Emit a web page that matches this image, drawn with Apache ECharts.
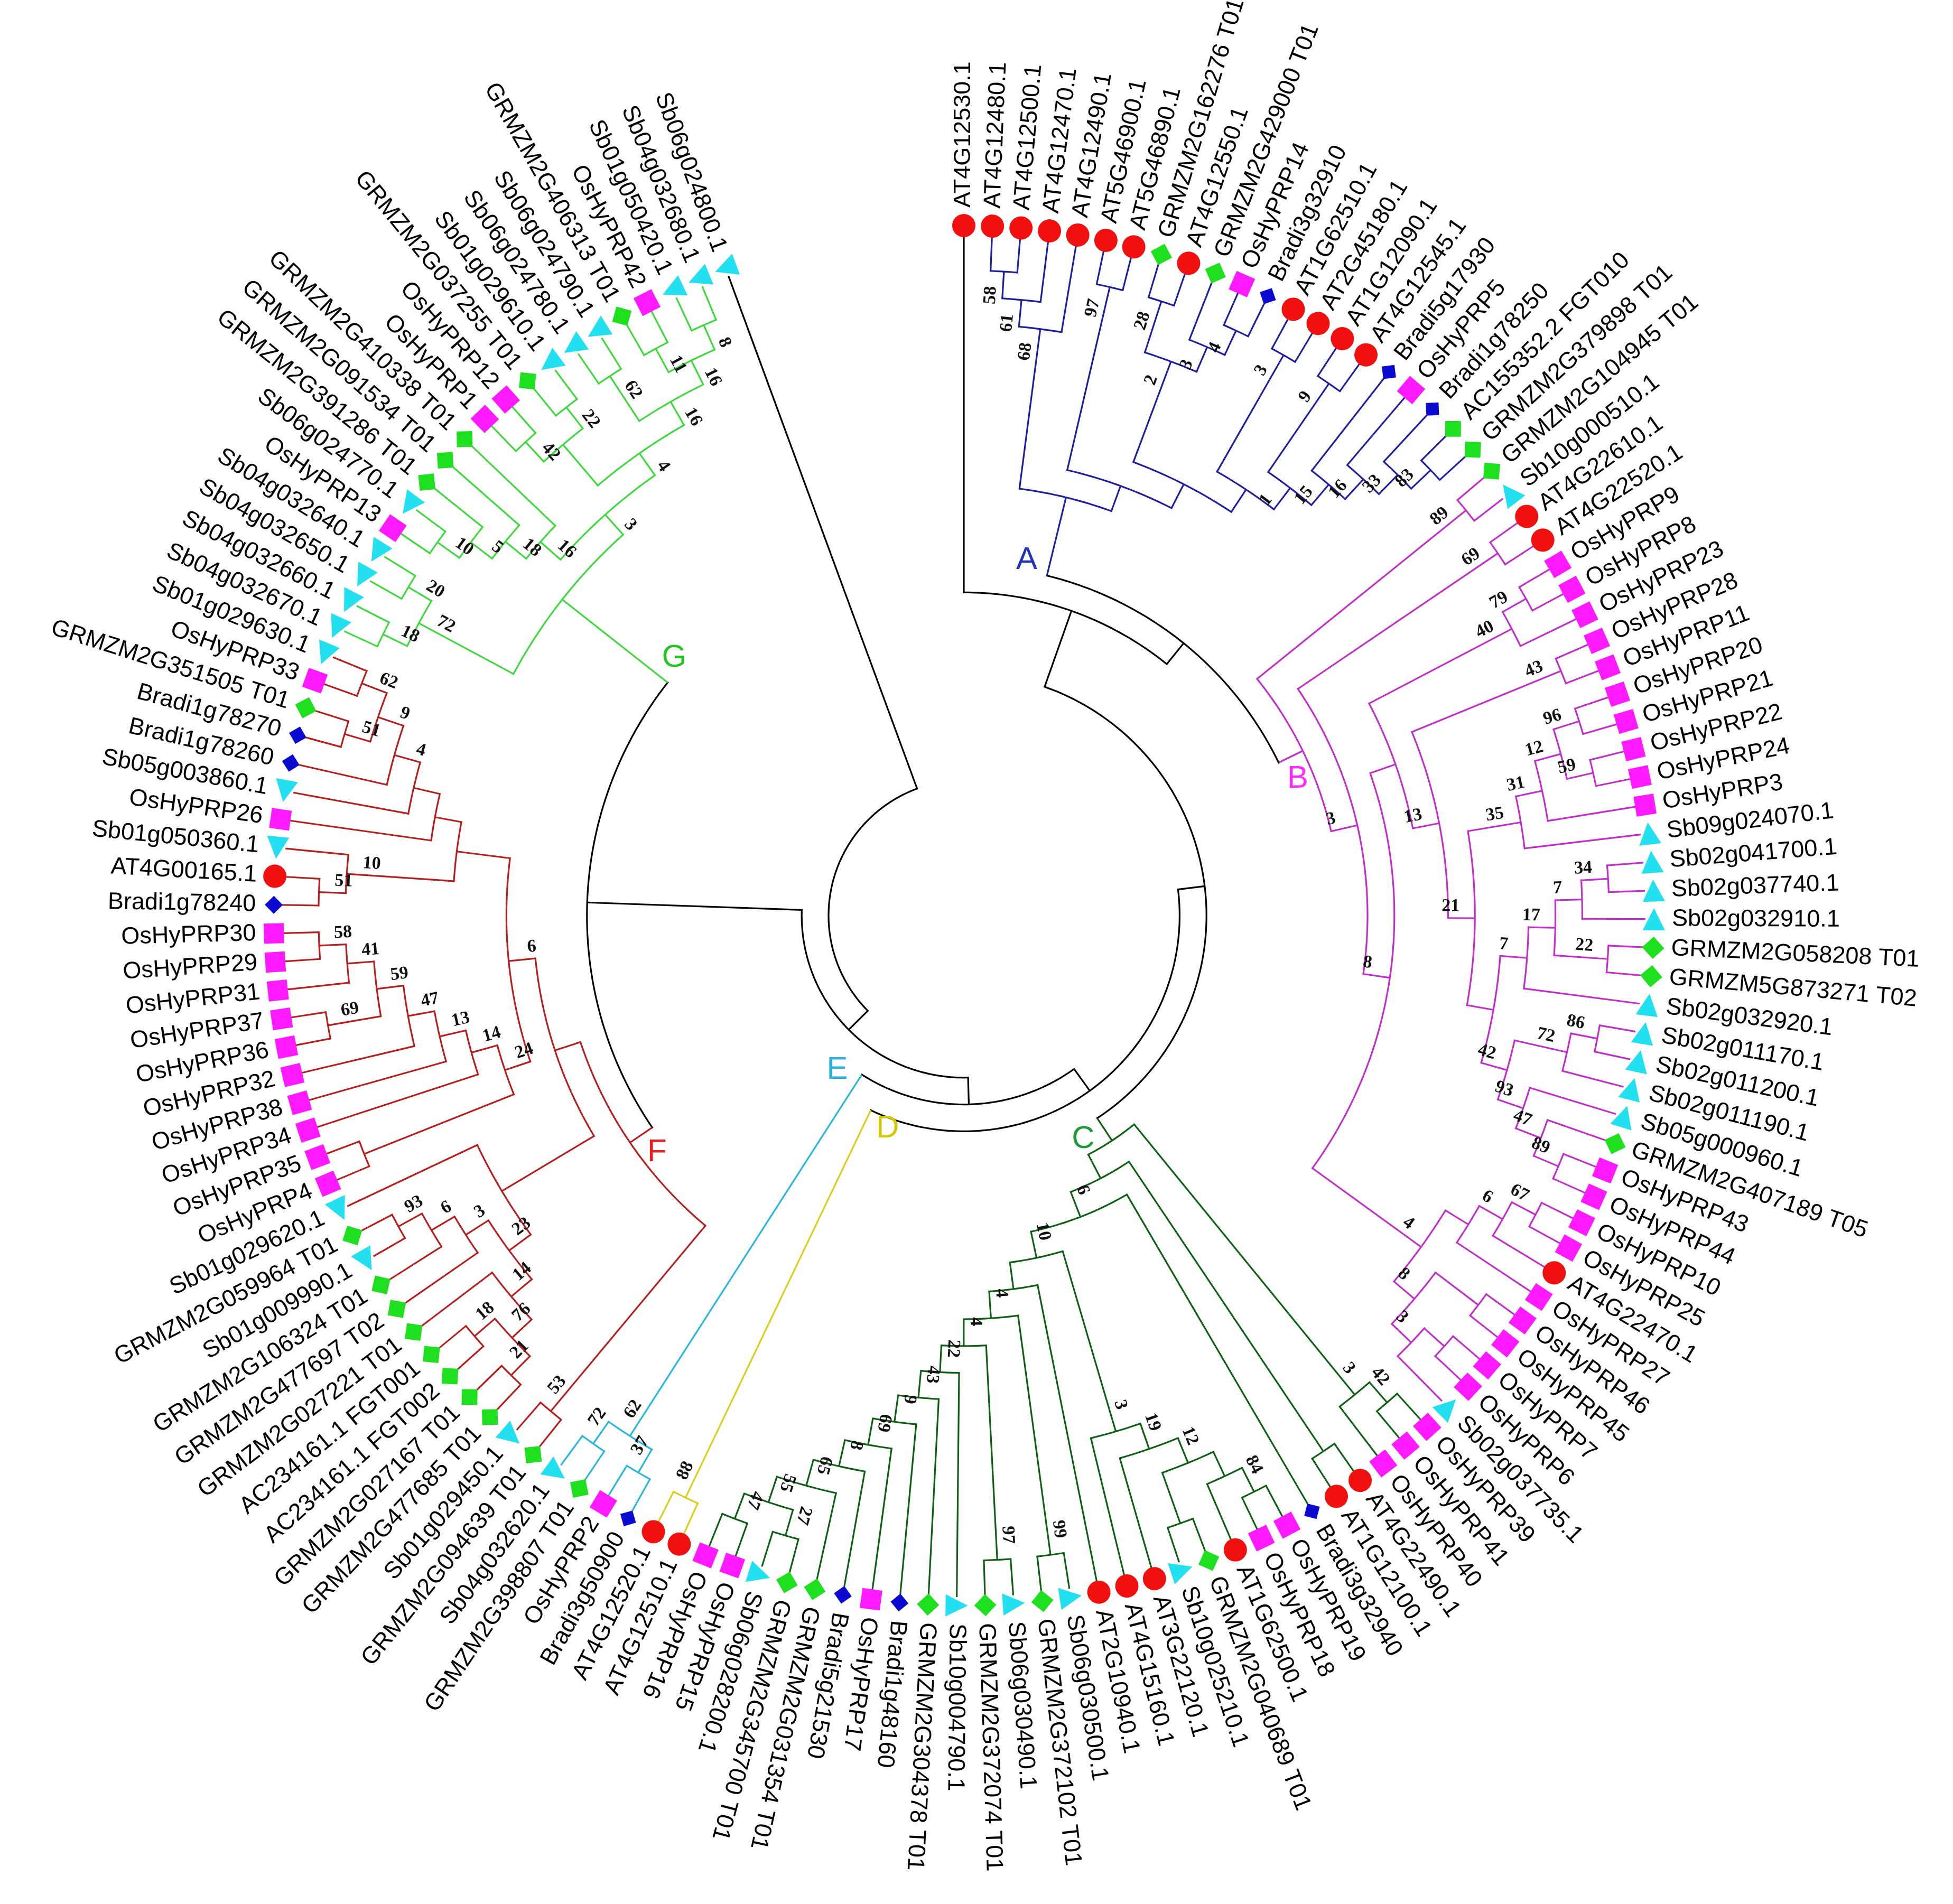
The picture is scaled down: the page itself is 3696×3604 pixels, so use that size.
<!DOCTYPE html>
<html>
<head>
<meta charset="utf-8">
<title>HyPRP phylogenetic tree</title>
<script src="https://cdn.jsdelivr.net/npm/echarts@6/dist/echarts.min.js"></script>
</head>
<body style="margin:0;background:#ffffff;">
<div id="main" style="width:3696px;height:3604px;"></div>
<script>
// ---- data -----------------------------------------------------------------
// taxa in clockwise order, starting at the top
var leafNames = [
  'AT4G12530.1', 'AT4G12480.1', 'AT4G12500.1', 'AT4G12470.1', 'AT4G12490.1',
  'AT5G46900.1', 'AT5G46890.1', 'GRMZM2G162276 T01', 'AT4G12550.1', 'GRMZM2G429000 T01',
  'OsHyPRP14', 'Bradi3g32910', 'AT1G62510.1', 'AT2G45180.1', 'AT1G12090.1',
  'AT4G12545.1', 'Bradi5g17930', 'OsHyPRP5', 'Bradi1g78250', 'AC155352.2 FGT010',
  'GRMZM2G379898 T01', 'GRMZM2G104945 T01', 'Sb10g000510.1', 'AT4G22610.1', 'AT4G22520.1',
  'OsHyPRP9', 'OsHyPRP8', 'OsHyPRP23', 'OsHyPRP28', 'OsHyPRP11',
  'OsHyPRP20', 'OsHyPRP21', 'OsHyPRP22', 'OsHyPRP24', 'OsHyPRP3',
  'Sb09g024070.1', 'Sb02g041700.1', 'Sb02g037740.1', 'Sb02g032910.1', 'GRMZM2G058208 T01',
  'GRMZM5G873271 T02', 'Sb02g032920.1', 'Sb02g011170.1', 'Sb02g011200.1', 'Sb02g011190.1',
  'Sb05g000960.1', 'GRMZM2G407189 T05', 'OsHyPRP43', 'OsHyPRP44', 'OsHyPRP10',
  'OsHyPRP25', 'AT4G22470.1', 'OsHyPRP27', 'OsHyPRP46', 'OsHyPRP45',
  'OsHyPRP7', 'OsHyPRP6', 'Sb02g037735.1', 'OsHyPRP39', 'OsHyPRP41',
  'OsHyPRP40', 'AT4G22490.1', 'AT1G12100.1', 'Bradi3g32940', 'OsHyPRP19',
  'OsHyPRP18', 'AT1G62500.1', 'GRMZM2G040689 T01', 'Sb10g025210.1', 'AT3G22120.1',
  'AT4G15160.1', 'AT2G10940.1', 'Sb06g030500.1', 'GRMZM2G372102 T01', 'Sb06g030490.1',
  'GRMZM2G372074 T01', 'Sb10g004790.1', 'GRMZM2G304378 T01', 'Bradi1g48160', 'OsHyPRP17',
  'Bradi5g21530', 'GRMZM2G031354 T01', 'GRMZM2G345700 T01', 'Sb06g028200.1', 'OsHyPRP15',
  'OsHyPRP16', 'AT4G12510.1', 'AT4G12520.1', 'Bradi3g50900', 'OsHyPRP2',
  'GRMZM2G398807 T01', 'Sb04g032620.1', 'GRMZM2G094639 T01', 'Sb01g029450.1', 'GRMZM2G477685 T01',
  'GRMZM2G027167 T01', 'AC234161.1 FGT002', 'AC234161.1 FGT001', 'GRMZM2G027221 T01', 'GRMZM2G477697 T02',
  'GRMZM2G106324 T01', 'Sb01g009990.1', 'GRMZM2G059964 T01', 'Sb01g029620.1', 'OsHyPRP4',
  'OsHyPRP35', 'OsHyPRP34', 'OsHyPRP38', 'OsHyPRP32', 'OsHyPRP36',
  'OsHyPRP37', 'OsHyPRP31', 'OsHyPRP29', 'OsHyPRP30', 'Bradi1g78240',
  'AT4G00165.1', 'Sb01g050360.1', 'OsHyPRP26', 'Sb05g003860.1', 'Bradi1g78260',
  'Bradi1g78270', 'GRMZM2G351505 T01', 'OsHyPRP33', 'Sb01g029630.1', 'Sb04g032670.1',
  'Sb04g032660.1', 'Sb04g032650.1', 'Sb04g032640.1', 'OsHyPRP13', 'Sb06g024770.1',
  'GRMZM2G391286 T01', 'GRMZM2G091534 T01', 'GRMZM2G410338 T01', 'OsHyPRP1', 'OsHyPRP12',
  'GRMZM2G037255 T01', 'Sb01g029610.1', 'Sb06g024780.1', 'Sb06g024790.1', 'GRMZM2G406313 T01',
  'OsHyPRP42', 'Sb01g050420.1', 'Sb04g032680.1', 'Sb06g024800.1'
];

// topology per clade, newick with 1-based taxon numbers and bootstrap values
var cladeA = (function () {
  var left = '(((2,3)58,4)61,5)68';
  var n2 = '((8,9)28,(10,(11,12)4)3)2';
  var ladder = '((13,14)3,((15,16)9,(17,(18,(19,(20,21)83)33)16)15)1)';
  return '(' + left + ',((6,7)97,(' + n2 + ',' + ladder + ')))';
})();

var cladeB = (function () {
  var n40 = '((26,27)79,28)40';
  var n35 = '((((31,32)96,(33,34)59)12,35)31,36)35';
  var n7 = '((((37,38)34,39)7,(40,41)22)17,42)7';
  var n42 = '(((43,44)86,45)72,(46,(47,(48,49)89)47)93)42';
  var n21 = '(' + n35 + ',(' + n7 + ',' + n42 + '))21';
  var n13 = '((29,30)43,' + n21 + ')13';
  var low = '((((50,51)67,52)6,53),((54,55),((56,57),58)3)8)4';
  return '((22,23)89,((24,25)69,((' + n40 + ',' + n13 + '),' + low + ')8)3)';
})();

var cladeC = (function () {
  var top = '((59,60)42,61)3';
  var n3 = '(((((65,66)84,67),(68,69))12,70)19,71)3';
  var n55 = '((83,84)27,(85,86)47)55';
  var ladder = '((73,74)99,((75,76)97,(77,(78,(79,(80,(81,(82,' + n55 + ')65)8)69)9)43)22)4)4';
  var n10 = '(' + n3 + ',(72,' + ladder + '))10';
  return '(' + top + ',((62,63),(64,' + n10 + ')6))';
})();

var cladeD = '(87,88)88';
var cladeE = '((89,90)37,(91,92)72)62';

var cladeF = (function () {
  var low = '(((((95,96)21,(97,98)18)76,99)14,(100,(101,(102,103)93)6)3)23,104)';
  var mid = '((105,106),(107,(108,(109,((110,111)69,(112,(113,114)58)41)59)47)13)14)24';
  var up = '(((115,116)51,117)10,(118,(119,(120,((121,122)51,(123,124)62)9)4)))';
  return '((93,94)53,(' + low + ',(' + mid + ',' + up + ')6))';
})();

var cladeG = (function () {
  var a = '((125,126)18,(127,128)20)72';
  var b = '((((129,130)10,131)5,132)18,133)16';
  var c = '((134,135)42,(136,137)22)';
  var d = '((138,139)62,((140,141)11,(142,143)8)16)16';
  return '(' + a + ',(' + b + ',(' + c + ',' + d + ')4)3)';
})();

var backbone = '((((((1,(A,B)),C),D),E),(F,G)),144)';
var cladeKeys = ['A', 'B', 'C', 'D', 'E', 'F', 'G'];
var cladeTrees = [cladeA, cladeB, cladeC, cladeD, cladeE, cladeF, cladeG];

// ---- styling / layout -------------------------------------------------------
var ANGLE_SLOTS = 151.5;        // leaf slots around the full circle
var CENTER = [1824, 1733];
var ROOT_PX = 256, TIP_PX = 1272, LEAF_LINE_PX = 1290;
var MARKER_PX = 1306, LABEL_PX = 1340, OUTER_PX = 1750;
var FLIP_DEG = 203;
var LINE_W = 3.2;
var branchColors = ['#1f1f9e', '#c030c8', '#0f5f14', '#d9cf1c', '#2ab7d9', '#b3201f', '#3fd93f'];
var tagColors = ['#2233bb', '#ff2bff', '#1e9a3c', '#d6c800', '#28b4dc', '#ee1c1c', '#25c425'];
var tagSide = [-1, 1, 1, -1, 1, -1, 1];
var speciesStyle = {
  at: { symbol: 'circle', size: 44, color: '#f01010' },
  os: { symbol: 'rect', size: 38, color: '#ff1aff' },
  zm: { symbol: 'diamond', size: 42, color: '#1fe01f' },
  sb: { symbol: 'triangle', size: 42, color: '#22e0f0' },
  bd: { symbol: 'diamond', size: 34, color: '#0a0ad0' }
};
var LEAF_FONT = '45px "Liberation Sans", Arial, sans-serif';
var SUPPORT_FONT = 'bold 34px "Liberation Serif", "Times New Roman", serif';
var TAG_FONT = '60px "Liberation Sans", Arial, sans-serif';

function speciesOf(name) {
  if (/^AT/.test(name)) return 'at';
  if (/^OsHyPRP/.test(name)) return 'os';
  if (/^(GRMZM|AC)/.test(name)) return 'zm';
  if (/^Sb/.test(name)) return 'sb';
  return 'bd';
}

// ---- tree building -------------------------------------------------------------
function parseNewick(str, subtrees) {
  var pos = 0;
  function token() {
    var m = /^[A-Za-z0-9]+/.exec(str.slice(pos));
    if (!m) return null;
    pos += m[0].length;
    return m[0];
  }
  function node() {
    if (str.charAt(pos) === '(') {
      pos++;
      var kids = [node()];
      while (str.charAt(pos) === ',') { pos++; kids.push(node()); }
      pos++;
      return { children: kids, support: token() };
    }
    var t = token();
    if (subtrees && subtrees[t]) return subtrees[t];
    return { leaf: parseInt(t, 10) - 1 };
  }
  return node();
}

function paint(n, color) {
  n.color = color;
  if (n.children) n.children.forEach(function (c) { paint(c, color); });
}

var cladeRoots = {};
cladeKeys.forEach(function (k, i) {
  var t = parseNewick(cladeTrees[i]);
  paint(t, branchColors[i]);
  cladeRoots[k] = t;
});
var root = parseNewick(backbone, cladeRoots);

var internals = [], order = [];
function layout(n, parent) {
  n.parent = parent;
  if (!n.color) n.color = '#000000';
  if (n.children) {
    n.children.forEach(function (c) { layout(c, n); });
    n.height = 1 + Math.max.apply(null, n.children.map(function (c) { return c.height; }));
    n.angle = (n.children[0].angle + n.children[n.children.length - 1].angle) / 2;
    internals.push(n);
  } else {
    n.height = 0;
    n.angle = n.leaf;
    order.push(n.leaf);
  }
}
layout(root, null);

var H = root.height;
var STEP_PX = (TIP_PX - ROOT_PX) / H;
function pxToV(px) { return (px - ROOT_PX) / STEP_PX; }
var LEAF_V = pxToV(LEAF_LINE_PX);
function setV(n) {
  n.v = n.children ? H - n.height : LEAF_V;
  if (n.children) n.children.forEach(setV);
}
setV(root);

var orderOk = order.length === leafNames.length && order.every(function (v, i) { return v === i; });
var DEG_PER_SLOT = 360 / ANGLE_SLOTS;
function toDeg(a) { return a * DEG_PER_SLOT; }
function sideSlots(px, rPx) { return (px / rPx) * 180 / Math.PI / DEG_PER_SLOT; }

// ---- series ----------------------------------------------------------------------
var branchSeries = {
  type: 'custom',
  coordinateSystem: 'polar',
  silent: true,
  data: internals.map(function (n) { return [n.v, n.angle]; }),
  renderItem: function (params, api) {
    var n = internals[params.dataIndex];
    var a0 = n.children[0].angle, a1 = n.children[n.children.length - 1].angle;
    var seg = Math.max(2, Math.ceil((a1 - a0) * 3));
    var pts = [];
    for (var k = 0; k <= seg; k++) pts.push(api.coord([n.v, a0 + (a1 - a0) * k / seg]));
    var els = [{
      type: 'polyline', shape: { points: pts },
      style: { stroke: n.color, lineWidth: LINE_W, fill: null, lineCap: 'square' }
    }];
    n.children.forEach(function (c) {
      var p = api.coord([n.v, c.angle]), q = api.coord([c.v, c.angle]);
      els.push({
        type: 'line', shape: { x1: p[0], y1: p[1], x2: q[0], y2: q[1] },
        style: { stroke: c.color, lineWidth: LINE_W }
      });
    });
    return { type: 'group', children: els };
  }
};

var markerSeries = Object.keys(speciesStyle).map(function (sp) {
  var st = speciesStyle[sp];
  var items = [];
  leafNames.forEach(function (name, i) {
    if (speciesOf(name) !== sp) return;
    items.push({ value: [pxToV(MARKER_PX), i], symbolRotate: 90 - toDeg(i) });
  });
  return {
    type: 'scatter', coordinateSystem: 'polar', clip: false, silent: true,
    symbol: st.symbol, symbolSize: st.size,
    itemStyle: { color: st.color, opacity: 1 },
    data: items
  };
});

var labelSeries = {
  type: 'custom', coordinateSystem: 'polar', silent: true,
  data: leafNames.map(function (n, i) { return [pxToV(LABEL_PX), i]; }),
  renderItem: function (params, api) {
    var i = params.dataIndex;
    var deg = toDeg(i);
    var flip = deg > FLIP_DEG;
    var p = api.coord([pxToV(LABEL_PX), i]);
    var align = flip ? 'right' : 'left';
    return {
      type: 'text', x: p[0], y: p[1],
      rotation: (flip ? 270 - deg : 90 - deg) * Math.PI / 180,
      style: {
        text: leafNames[i], fill: '#000000', font: LEAF_FONT,
        align: align, textAlign: align, verticalAlign: 'middle', textVerticalAlign: 'middle'
      }
    };
  }
};

var supportNodes = internals.filter(function (n) { return n.support; });
var supportSeries = {
  type: 'custom', coordinateSystem: 'polar', silent: true,
  data: supportNodes.map(function (n) { return [n.v, n.angle]; }),
  renderItem: function (params, api) {
    var n = supportNodes[params.dataIndex];
    var deg = toDeg(n.angle);
    var flip = deg > FLIP_DEG;
    var v = n.v - 0.9;
    var rPx = ROOT_PX + v * STEP_PX;
    var p = api.coord([v, n.angle + (flip ? 1 : -1) * sideSlots(22, rPx)]);
    return {
      type: 'text', x: p[0], y: p[1],
      rotation: (flip ? 270 - deg : 90 - deg) * Math.PI / 180,
      style: {
        text: n.support, fill: '#111111', font: SUPPORT_FONT,
        align: 'center', textAlign: 'center', verticalAlign: 'middle', textVerticalAlign: 'middle'
      }
    };
  }
};

var tagSeries = {
  type: 'custom', coordinateSystem: 'polar', silent: true,
  data: cladeKeys.map(function (k) { return [cladeRoots[k].v, cladeRoots[k].angle]; }),
  renderItem: function (params, api) {
    var i = params.dataIndex;
    var c = cladeRoots[cladeKeys[i]];
    var v = c.parent.v + 0.4;
    var rPx = ROOT_PX + v * STEP_PX;
    var p = api.coord([v, c.angle + tagSide[i] * sideSlots(44, rPx)]);
    return {
      type: 'text', x: p[0], y: p[1],
      style: {
        text: cladeKeys[i], fill: tagColors[i], font: TAG_FONT,
        align: 'center', textAlign: 'center', verticalAlign: 'middle', textVerticalAlign: 'middle'
      }
    };
  }
};

var chart = echarts.init(document.getElementById('main'));
chart.setOption({
  backgroundColor: '#ffffff',
  animation: false,
  title: orderOk ? { show: false } : { text: 'leaf order mismatch: ' + order.join(','), textStyle: { fontSize: 20 } },
  polar: { center: CENTER, radius: [0, OUTER_PX] },
  angleAxis: { type: 'value', min: 0, max: ANGLE_SLOTS, startAngle: 90, clockwise: true, show: false },
  radiusAxis: { type: 'value', min: -ROOT_PX / STEP_PX, max: pxToV(OUTER_PX), show: false },
  series: [branchSeries].concat(markerSeries, [labelSeries, supportSeries, tagSeries])
});
</script>
</body>
</html>
